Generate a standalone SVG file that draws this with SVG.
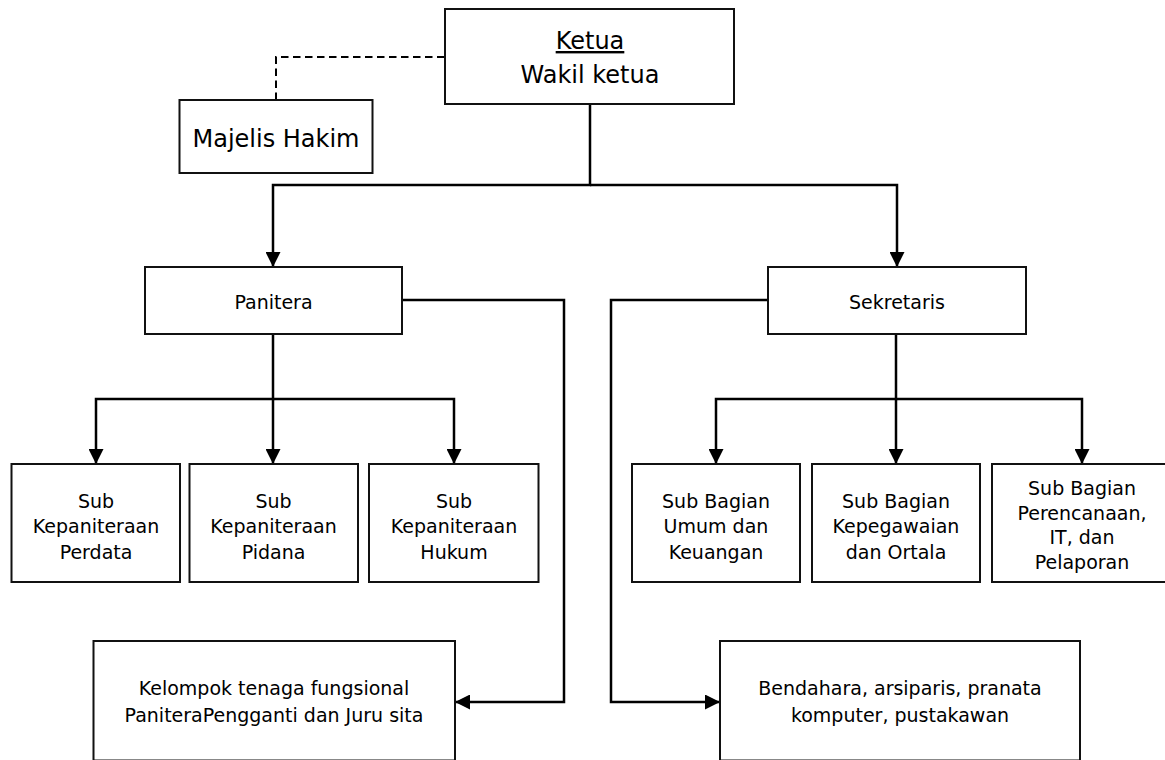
<svg xmlns="http://www.w3.org/2000/svg" width="1165" height="760" viewBox="0 0 1165 760">
<style>
  .box { fill: #ffffff; stroke: #111111; stroke-width: 2; }
  .conn { fill: none; stroke: #000000; stroke-width: 2.5; }
  .dash { fill: none; stroke: #000000; stroke-width: 2; stroke-dasharray: 7.5 4.5; }
  text { font-family: "DejaVu Sans", "Liberation Sans", sans-serif; fill: #000000; text-anchor: middle; }
  .big { font-size: 24px; }
  .sm { font-size: 19px; }
</style>
<defs>
  <marker id="arr" markerUnits="userSpaceOnUse" markerWidth="15" markerHeight="15" refX="15" refY="7.5" orient="auto">
    <path d="M0,0 L15,7.5 L0,15 z" fill="#000000"/>
  </marker>
</defs>
<rect width="1165" height="760" fill="#ffffff"/>

<g id="connectors">
  <path class="dash" d="M276,100 V57 H445"/>
  <path class="conn" d="M590,104 V185 H273 V267" marker-end="url(#arr)"/>
  <path class="conn" d="M590,185 H897 V267" marker-end="url(#arr)"/>
  <path class="conn" d="M273,334 V399 H96 V464" marker-end="url(#arr)"/>
  <path class="conn" d="M273,399 V464" marker-end="url(#arr)"/>
  <path class="conn" d="M273,399 H454 V464" marker-end="url(#arr)"/>
  <path class="conn" d="M402,300 H564 V702 H455" marker-end="url(#arr)"/>
  <path class="conn" d="M896,334 V399 H716 V464" marker-end="url(#arr)"/>
  <path class="conn" d="M896,399 V464" marker-end="url(#arr)"/>
  <path class="conn" d="M896,399 H1082 V464" marker-end="url(#arr)"/>
  <path class="conn" d="M768,300 H611 V702 H720" marker-end="url(#arr)"/>
</g>

<g id="ketua">
  <rect class="box" x="445" y="9" width="289" height="95"/>
  <text class="big" x="590" y="49" text-decoration="underline">Ketua</text>
  <text class="big" x="590" y="83">Wakil ketua</text>
</g>
<g id="majelis-hakim">
  <rect class="box" x="179.5" y="100" width="193" height="73"/>
  <text class="big" x="276" y="147">Majelis Hakim</text>
</g>
<g id="panitera">
  <rect class="box" x="145" y="267" width="257" height="67"/>
  <text class="sm" x="273.5" y="309">Panitera</text>
</g>
<g id="sekretaris">
  <rect class="box" x="768" y="267" width="258" height="67"/>
  <text class="sm" x="897" y="309">Sekretaris</text>
</g>
<g id="sub-perdata">
  <rect class="box" x="11.5" y="464" width="168.5" height="118"/>
  <text class="sm" x="96" y="508">Sub</text>
  <text class="sm" x="96" y="533">Kepaniteraan</text>
  <text class="sm" x="96" y="559">Perdata</text>
</g>
<g id="sub-pidana">
  <rect class="box" x="189.5" y="464" width="168.5" height="118"/>
  <text class="sm" x="273.5" y="508">Sub</text>
  <text class="sm" x="273.5" y="533">Kepaniteraan</text>
  <text class="sm" x="273.5" y="559">Pidana</text>
</g>
<g id="sub-hukum">
  <rect class="box" x="369" y="464" width="169.5" height="118"/>
  <text class="sm" x="454" y="508">Sub</text>
  <text class="sm" x="454" y="533">Kepaniteraan</text>
  <text class="sm" x="454" y="559">Hukum</text>
</g>
<g id="sub-umum">
  <rect class="box" x="632" y="464" width="168" height="118"/>
  <text class="sm" x="716" y="508">Sub Bagian</text>
  <text class="sm" x="716" y="533">Umum dan</text>
  <text class="sm" x="716" y="559">Keuangan</text>
</g>
<g id="sub-kepegawaian">
  <rect class="box" x="812" y="464" width="168" height="118"/>
  <text class="sm" x="896" y="508">Sub Bagian</text>
  <text class="sm" x="896" y="533">Kepegawaian</text>
  <text class="sm" x="896" y="559">dan Ortala</text>
</g>
<g id="sub-perencanaan">
  <rect class="box" x="992" y="464" width="180" height="118"/>
  <text class="sm" x="1082" y="495">Sub Bagian</text>
  <text class="sm" x="1082" y="519.5">Perencanaan,</text>
  <text class="sm" x="1082" y="544">IT, dan</text>
  <text class="sm" x="1082" y="569">Pelaporan</text>
</g>
<g id="kelompok">
  <rect class="box" x="93.5" y="641" width="361.5" height="119.5"/>
  <text class="sm" x="274" y="695">Kelompok tenaga fungsional</text>
  <text class="sm" x="274" y="722">PaniteraPengganti dan Juru sita</text>
</g>
<g id="bendahara">
  <rect class="box" x="720" y="641" width="360" height="119.5"/>
  <text class="sm" x="900" y="695">Bendahara, arsiparis, pranata</text>
  <text class="sm" x="900" y="722">komputer, pustakawan</text>
</g>
</svg>
